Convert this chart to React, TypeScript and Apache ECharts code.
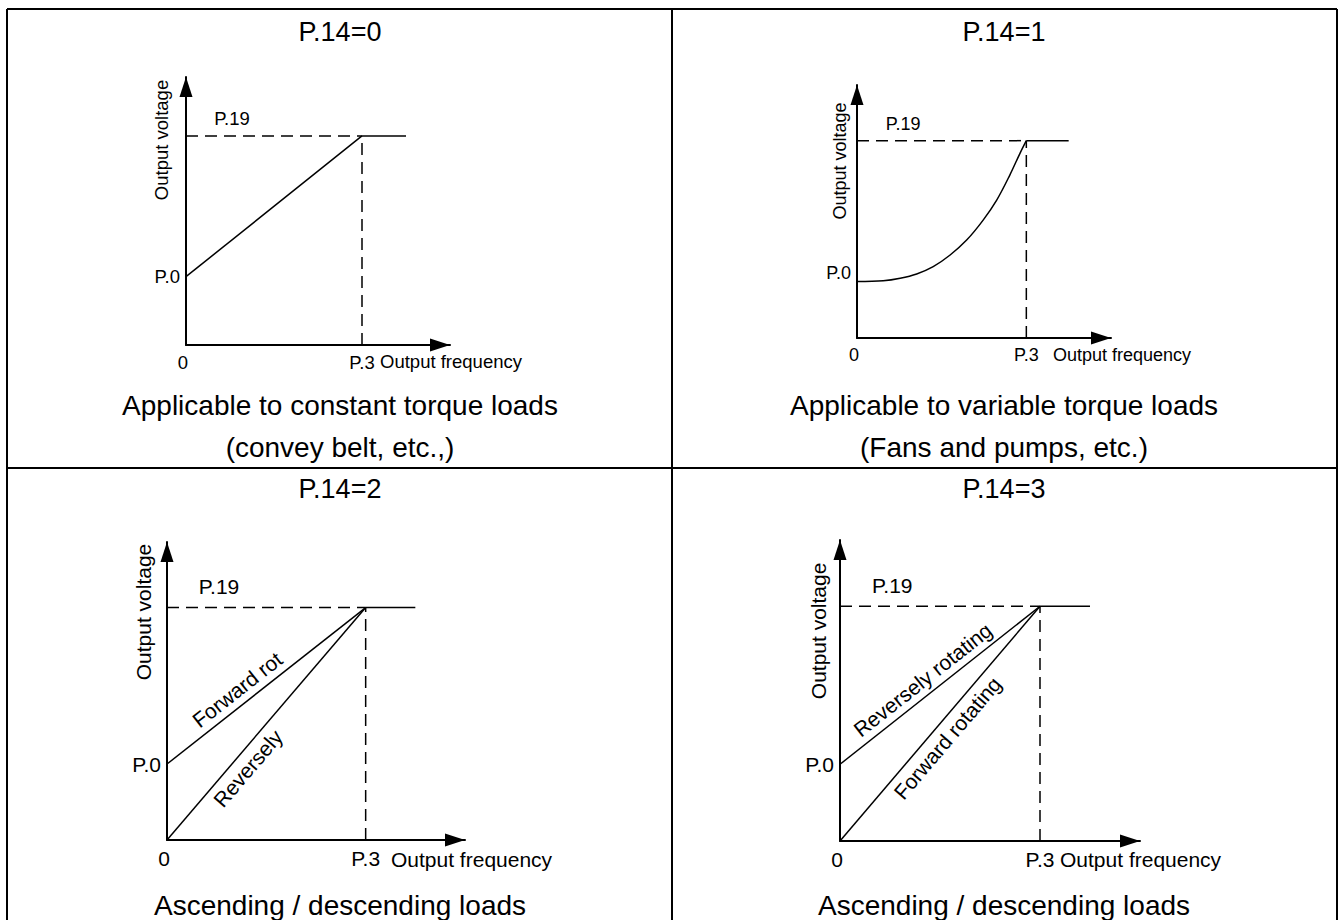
import React, { useEffect, useRef } from "react";
import * as echarts from "echarts";

const FONT = "'Liberation Sans', Arial, Helvetica, sans-serif";

// ---------------- data ----------------
const panelTitles = ["P.14=0", "P.14=1", "P.14=2", "P.14=3"];
const captionLines = [
  ["Applicable to constant torque loads", "(convey belt, etc.,)"],
  ["Applicable to variable torque loads", "(Fans and pumps, etc.)"],
  ["Ascending / descending loads"],
  ["Ascending / descending loads"],
];
const originLabel = "0";
const baseFreqLabel = "P.3";
const startVoltLabel = "P.0";
const ratedVoltLabel = "P.19";
const xAxisTitle = "Output frequency";
const yAxisTitle = "Output voltage";

const X_MAX = 60;
const Y_MAX = 100;
const baseFreq = 40; // P.3
const ratedVolt = 78; // P.19
const startVolt = [25.5, 22.3, 25.5, 25.5]; // P.0 of each panel

const linearCurve = [[0, 25.5], [40, 78]];
const squareCurve = [
  [0, 22.3], [6.2, 22.6], [10.2, 23.6], [14.1, 25.3], [18.0, 28.2], [22.0, 32.8],
  [25.9, 38.7], [29.8, 46.6], [33.0, 54.5], [36.1, 64.4], [38.5, 73.0], [40, 78],
];
const boostCurve = [[0, 25.5], [40, 78]];
const zeroCurve = [[0, 0], [40, 78]];
const flatSegment = [[40, 78], [50, 78]];
const ratedDashH = [[0, 78], [40, 78]];
const baseDashV = [[40, 0], [40, 78]];

// ---------------- layout ----------------
const panels = [
  {
    grid: { left: 186, top: 77, width: 264, height: 268 }, font: 18.5, p0Align: "middle",
    curves: [{ data: linearCurve, smooth: false }],
    p19: [6.4, 84.7], yTitle: [-5.6, 76.5], xTitle: [44.1, -6.3],
    lineLabels: [],
  },
  {
    grid: { left: 857, top: 85, width: 254, height: 253 }, font: 18, p0Align: "bottom",
    curves: [{ data: squareCurve, smooth: 0.35 }],
    p19: [6.8, 84.6], yTitle: [-4.0, 70], xTitle: [46.3, -6.7],
    lineLabels: [],
  },
  {
    grid: { left: 167, top: 542, width: 298, height: 298 }, font: 21, p0Align: "middle",
    curves: [{ data: boostCurve, smooth: false }, { data: zeroCurve, smooth: false }],
    p19: [6.4, 84.9], yTitle: [-4.8, 76.5], xTitle: [45.1, -6.4],
    lineLabels: [
      { text: "Forward rot", curve: 0, t: 0.4, d: 15 },
      { text: "Reversely", curve: 1, t: 0.35, d: -15 },
    ],
  },
  {
    grid: { left: 840, top: 540, width: 300, height: 301 }, font: 21, p0Align: "middle",
    curves: [{ data: boostCurve, smooth: false }, { data: zeroCurve, smooth: false }],
    p19: [6.4, 85], yTitle: [-4.3, 69.8], xTitle: [44, -6.3],
    lineLabels: [
      { text: "Reversely rotating", curve: 0, t: 0.46, d: 15 },
      { text: "Forward rotating", curve: 1, t: 0.48, d: -15 },
    ],
  },
];

const titlePos = [[340, 32], [1004, 32], [340, 489], [1004, 489]];
const captionPos = [[340, [405, 447]], [1004, [405, 447]], [340, [905]], [1004, [905]]];

function buildOption() {
  const series: any[] = [];
  panels.forEach((p, i) => {
    const common = {
      type: "line", xAxisIndex: i, yAxisIndex: i, symbol: "none", showSymbol: false,
      silent: true, clip: false,
    };
    p.curves.forEach((c) => {
      series.push({ ...common, data: c.data, smooth: c.smooth, lineStyle: { color: "#000", width: 1.5 } });
    });
    series.push({ ...common, data: flatSegment, lineStyle: { color: "#000", width: 1.5 } });
    series.push({ ...common, data: ratedDashH, lineStyle: { color: "#000", width: 1.5, type: [12, 7] } });
    series.push({ ...common, data: baseDashV, lineStyle: { color: "#000", width: 1.5, type: [12, 7] } });
  });

  return {
    animation: false,
    backgroundColor: "#fff",
    textStyle: { fontFamily: FONT },
    grid: panels.map((p) => ({ ...p.grid, containLabel: false })),
    xAxis: panels.map((p, i) => ({
      type: "value", gridIndex: i, min: 0, max: X_MAX, interval: baseFreq,
      axisLine: {
        show: true, onZero: false, symbol: ["none", "triangle"], symbolSize: [13, 20],
        symbolOffset: [0, -10], lineStyle: { color: "#000", width: 2 },
      },
      axisTick: { show: false }, splitLine: { show: false },
      axisLabel: {
        color: "#000", fontSize: p.font, fontFamily: FONT, margin: 8, showMaxLabel: false,
        rich: { o: { fontSize: p.font, fontFamily: FONT, color: "#000", padding: [0, 6, 0, 0] } },
        formatter: (v: number) => (v === 0 ? `{o|${originLabel}}` : Math.abs(v - baseFreq) < 1e-6 ? baseFreqLabel : ""),
      },
    })),
    yAxis: panels.map((p, i) => ({
      type: "value", gridIndex: i, min: 0, max: Y_MAX, interval: startVolt[i],
      axisLine: {
        show: true, onZero: false, symbol: ["none", "triangle"], symbolSize: [13, 20],
        symbolOffset: [0, -10], lineStyle: { color: "#000", width: 2 },
      },
      axisTick: { show: false }, splitLine: { show: false },
      axisLabel: {
        color: "#000", fontSize: p.font, fontFamily: FONT, margin: 6, showMaxLabel: false,
        verticalAlign: p.p0Align,
        formatter: (v: number) => (Math.abs(v - startVolt[i]) < 0.01 ? startVoltLabel : ""),
      },
    })),
    series,
  };
}

function buildGraphic(chart: any) {
  const g: any[] = [];
  const border = { stroke: "#000", lineWidth: 2 };
  const lines = [
    [7, 9, 1337, 9], [7, 9, 7, 930], [1337, 9, 1337, 930], [672, 9, 672, 930], [7, 468, 1337, 468],
  ];
  lines.forEach(([x1, y1, x2, y2]) => g.push({ type: "line", shape: { x1, y1, x2, y2 }, style: border, silent: true }));

  panelTitles.forEach((t, i) => {
    g.push({
      type: "text", x: titlePos[i][0], y: titlePos[i][1],
      style: { text: t, font: `27px ${FONT}`, fill: "#000", align: "center", verticalAlign: "middle" },
    });
  });
  captionLines.forEach((ls, i) => {
    const [cx, ys] = captionPos[i] as any;
    ls.forEach((t, k) => {
      g.push({
        type: "text", x: cx, y: ys[k],
        style: { text: t, font: `28px ${FONT}`, fill: "#000", align: "center", verticalAlign: "middle" },
      });
    });
  });

  panels.forEach((p, i) => {
    const px = (pt: number[]) => chart.convertToPixel({ gridIndex: i }, pt);
    const font = `${p.font}px ${FONT}`;
    const a = px(p.p19);
    g.push({ type: "text", x: a[0], y: a[1], style: { text: ratedVoltLabel, font, fill: "#000", align: "left", verticalAlign: "middle" } });
    const b = px(p.xTitle);
    g.push({ type: "text", x: b[0], y: b[1], style: { text: xAxisTitle, font, fill: "#000", align: "left", verticalAlign: "middle" } });
    const c = px(p.yTitle);
    g.push({ type: "text", x: c[0], y: c[1], rotation: Math.PI / 2, style: { text: yAxisTitle, font, fill: "#000", align: "center", verticalAlign: "middle" } });
    p.lineLabels.forEach((lb: any) => {
      const data = p.curves[lb.curve].data;
      const A = px(data[0]);
      const B = px(data[data.length - 1]);
      const dx = B[0] - A[0];
      const dy = B[1] - A[1];
      const len = Math.hypot(dx, dy);
      const ux = dx / len, uy = dy / len;
      const nx = uy, ny = -ux;
      const x = A[0] + lb.t * dx + lb.d * nx;
      const y = A[1] + lb.t * dy + lb.d * ny;
      g.push({
        type: "text", x, y, rotation: Math.atan2(-dy, dx),
        style: { text: lb.text, font, fill: "#000", align: "center", verticalAlign: "middle" },
      });
    });
  });
  return g;
}

export default function App() {
  const ref = useRef<HTMLDivElement>(null);
  useEffect(() => {
    if (!ref.current) return;
    const chart = echarts.init(ref.current, undefined, { renderer: "svg" });
    chart.setOption(buildOption());
    chart.setOption({ graphic: buildGraphic(chart) });
    return () => chart.dispose();
  }, []);
  return <div ref={ref} style={{ position: "absolute", left: 0, top: 0, width: 1339, height: 920, background: "#fff" }} />;
}
